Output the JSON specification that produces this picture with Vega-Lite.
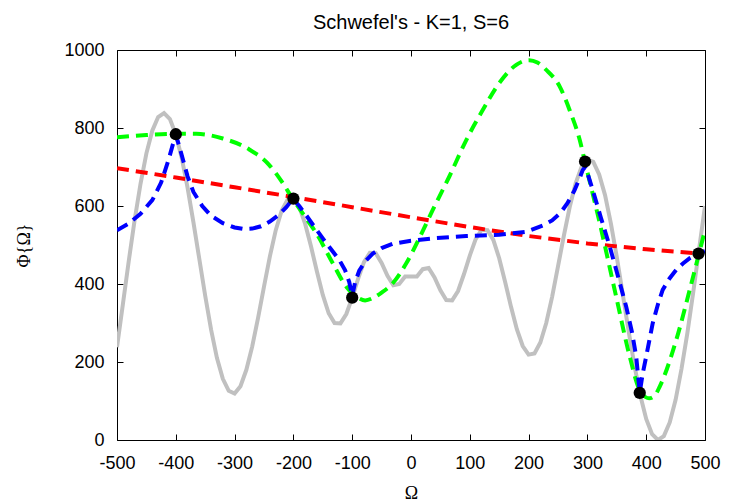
{
  "$schema": "https://vega.github.io/schema/vega-lite/v6.json",
  "width": 588,
  "height": 390,
  "autosize": {"type": "none"},
  "padding": {"left": 117, "top": 50, "right": 25, "bottom": 64},
  "background": "white",
  "title": {"text": "Schwefel's - K=1, S=6", "font": "Liberation Sans", "fontSize": 20, "fontWeight": "normal", "color": "#000", "anchor": "middle", "frame": "group", "baseline": "bottom", "offset": 18, "dy": 30},
  "config": {
    "view": {"stroke": "#000", "strokeWidth": 1},
    "axis": {"domain": false, "grid": false, "ticks": true, "tickColor": "#000", "tickWidth": 1, "tickSize": -6, "labelFont": "Liberation Sans", "labelFontSize": 18, "labelColor": "#000", "titleFont": "Liberation Serif", "titleFontSize": 18, "titleFontWeight": "normal", "titleColor": "#000"}
  },
  "datasets": {
    "gray": [
      {"x": -500, "y": 238}, {"x": -490, "y": 348}, {"x": -480, "y": 459}, {"x": -470, "y": 564}, {"x": -460, "y": 657}, {"x": -450, "y": 735}, {"x": -440, "y": 793}, {"x": -430, "y": 828}, {"x": -420, "y": 838}, {"x": -410, "y": 823}, {"x": -400, "y": 784}, {"x": -390, "y": 724}, {"x": -380, "y": 647}, {"x": -370, "y": 558}, {"x": -360, "y": 464}, {"x": -350, "y": 370}, {"x": -340, "y": 283}, {"x": -330, "y": 210}, {"x": -320, "y": 157}, {"x": -310, "y": 126}, {"x": -300, "y": 119}, {"x": -290, "y": 138}, {"x": -280, "y": 180}, {"x": -270, "y": 240}, {"x": -260, "y": 314}, {"x": -250, "y": 393}, {"x": -240, "y": 471}, {"x": -230, "y": 538}, {"x": -220, "y": 588}, {"x": -210, "y": 616}, {"x": -200, "y": 619}, {"x": -190, "y": 597}, {"x": -180, "y": 554}, {"x": -170, "y": 496}, {"x": -160, "y": 432}, {"x": -150, "y": 372}, {"x": -140, "y": 325}, {"x": -130, "y": 300}, {"x": -120, "y": 299}, {"x": -110, "y": 323}, {"x": -100, "y": 365}, {"x": -90, "y": 413}, {"x": -80, "y": 456}, {"x": -70, "y": 480}, {"x": -60, "y": 479}, {"x": -50, "y": 454}, {"x": -40, "y": 421}, {"x": -30, "y": 397}, {"x": -20, "y": 400}, {"x": -10, "y": 419}, {"x": 0, "y": 419}, {"x": 10, "y": 419}, {"x": 20, "y": 438}, {"x": 30, "y": 441}, {"x": 40, "y": 417}, {"x": 50, "y": 384}, {"x": 60, "y": 359}, {"x": 70, "y": 358}, {"x": 80, "y": 382}, {"x": 90, "y": 425}, {"x": 100, "y": 473}, {"x": 110, "y": 515}, {"x": 120, "y": 539}, {"x": 130, "y": 538}, {"x": 140, "y": 513}, {"x": 150, "y": 466}, {"x": 160, "y": 406}, {"x": 170, "y": 342}, {"x": 180, "y": 284}, {"x": 190, "y": 241}, {"x": 200, "y": 219}, {"x": 210, "y": 222}, {"x": 220, "y": 250}, {"x": 230, "y": 300}, {"x": 240, "y": 367}, {"x": 250, "y": 445}, {"x": 260, "y": 524}, {"x": 270, "y": 598}, {"x": 280, "y": 658}, {"x": 290, "y": 700}, {"x": 300, "y": 719}, {"x": 310, "y": 713}, {"x": 320, "y": 681}, {"x": 330, "y": 628}, {"x": 340, "y": 555}, {"x": 350, "y": 469}, {"x": 360, "y": 375}, {"x": 370, "y": 280}, {"x": 380, "y": 191}, {"x": 390, "y": 114}, {"x": 400, "y": 54}, {"x": 410, "y": 15}, {"x": 420, "y": 0}, {"x": 430, "y": 10}, {"x": 440, "y": 45}, {"x": 450, "y": 103}, {"x": 460, "y": 182}, {"x": 470, "y": 274}, {"x": 480, "y": 379}, {"x": 490, "y": 490}, {"x": 500, "y": 600}
    ],
    "red": [
      {"x": -500, "y": 697}, {"x": -400, "y": 673}, {"x": -300, "y": 648}, {"x": -200, "y": 623}, {"x": -100, "y": 597}, {"x": 0, "y": 571}, {"x": 100, "y": 546}, {"x": 200, "y": 523}, {"x": 300, "y": 504}, {"x": 400, "y": 489}, {"x": 489, "y": 478}
    ],
    "green": [
      {"x": -500, "y": 776}, {"x": -450, "y": 782}, {"x": -400, "y": 785}, {"x": -365, "y": 785}, {"x": -320, "y": 773}, {"x": -275, "y": 745}, {"x": -241, "y": 705}, {"x": -220, "y": 663}, {"x": -201, "y": 618}, {"x": -180, "y": 572}, {"x": -161, "y": 530}, {"x": -133, "y": 453}, {"x": -110, "y": 393}, {"x": -88, "y": 363}, {"x": -78, "y": 358}, {"x": -65, "y": 364}, {"x": -50, "y": 378}, {"x": -31, "y": 402}, {"x": -8, "y": 453}, {"x": 14, "y": 517}, {"x": 37, "y": 590}, {"x": 65, "y": 675}, {"x": 94, "y": 769}, {"x": 122, "y": 846}, {"x": 150, "y": 915}, {"x": 179, "y": 962}, {"x": 201, "y": 974}, {"x": 215, "y": 968}, {"x": 230, "y": 949}, {"x": 253, "y": 906}, {"x": 270, "y": 845}, {"x": 287, "y": 769}, {"x": 296, "y": 712}, {"x": 321, "y": 556}, {"x": 349, "y": 367}, {"x": 372, "y": 214}, {"x": 389, "y": 128}, {"x": 405, "y": 107}, {"x": 415, "y": 115}, {"x": 423, "y": 137}, {"x": 451, "y": 256}, {"x": 474, "y": 385}, {"x": 490, "y": 479}, {"x": 500, "y": 538}
    ],
    "blue": [
      {"x": -500, "y": 538}, {"x": -480, "y": 555}, {"x": -460, "y": 580}, {"x": -440, "y": 615}, {"x": -425, "y": 660}, {"x": -412, "y": 720}, {"x": -405, "y": 758}, {"x": -400, "y": 782}, {"x": -395, "y": 758}, {"x": -388, "y": 720}, {"x": -380, "y": 676}, {"x": -370, "y": 636}, {"x": -355, "y": 600}, {"x": -340, "y": 575}, {"x": -320, "y": 556}, {"x": -300, "y": 545}, {"x": -285, "y": 541}, {"x": -270, "y": 542}, {"x": -255, "y": 548}, {"x": -240, "y": 560}, {"x": -225, "y": 577}, {"x": -212, "y": 597}, {"x": -201, "y": 618}, {"x": -190, "y": 600}, {"x": -180, "y": 580}, {"x": -165, "y": 548}, {"x": -150, "y": 517}, {"x": -135, "y": 487}, {"x": -122, "y": 462}, {"x": -112, "y": 435}, {"x": -105, "y": 405}, {"x": -100, "y": 369}, {"x": -95, "y": 405}, {"x": -88, "y": 434}, {"x": -78, "y": 458}, {"x": -65, "y": 478}, {"x": -50, "y": 492}, {"x": -31, "y": 503}, {"x": 0, "y": 511}, {"x": 37, "y": 517}, {"x": 94, "y": 523}, {"x": 150, "y": 526}, {"x": 196, "y": 534}, {"x": 224, "y": 550}, {"x": 240, "y": 563}, {"x": 254, "y": 582}, {"x": 266, "y": 607}, {"x": 278, "y": 640}, {"x": 287, "y": 672}, {"x": 292, "y": 692}, {"x": 296, "y": 700}, {"x": 302, "y": 675}, {"x": 309, "y": 641}, {"x": 323, "y": 570}, {"x": 338, "y": 496}, {"x": 352, "y": 420}, {"x": 366, "y": 342}, {"x": 376, "y": 275}, {"x": 383, "y": 214}, {"x": 389, "y": 121}, {"x": 394, "y": 170}, {"x": 400, "y": 214}, {"x": 411, "y": 299}, {"x": 420, "y": 348}, {"x": 428, "y": 385}, {"x": 440, "y": 415}, {"x": 451, "y": 436}, {"x": 462, "y": 452}, {"x": 474, "y": 466}, {"x": 489, "y": 478}, {"x": 500, "y": 484}
    ],
    "pts": [
      {"x": -400, "y": 784}, {"x": -200, "y": 619}, {"x": -100, "y": 365}, {"x": 296, "y": 714}, {"x": 389, "y": 121}, {"x": 489, "y": 478}
    ]
  },
  "resolve": {"axis": {"x": "independent", "y": "independent"}},
  "layer": [
    {
      "data": {"name": "gray"},
      "mark": {"type": "line", "color": "#c0c0c0", "strokeWidth": 4, "clip": true},
      "encoding": {
        "x": {"field": "x", "type": "quantitative", "scale": {"domain": [-500, 500], "nice": false, "zero": false}, "axis": {"orient": "bottom", "values": [-500, -400, -300, -200, -100, 0, 100, 200, 300, 400, 500], "labelExpr": "toString(datum.value)", "title": "Ω", "labelPadding": 20, "titlePadding": 12, "labelFlush": false}},
        "y": {"field": "y", "type": "quantitative", "scale": {"domain": [0, 1000], "nice": false}, "axis": {"orient": "left", "values": [0, 200, 400, 600, 800, 1000], "labelExpr": "toString(datum.value)", "title": "Φ{Ω}", "labelPadding": 19, "titlePadding": 30}}
      }
    },
    {
      "data": {"name": "red"},
      "mark": {"type": "line", "color": "#ff0000", "strokeWidth": 4, "strokeDash": [12, 7], "clip": true},
      "encoding": {
        "x": {"field": "x", "type": "quantitative", "scale": {"domain": [-500, 500], "nice": false, "zero": false}, "axis": {"orient": "top", "values": [-500, -400, -300, -200, -100, 0, 100, 200, 300, 400, 500], "labels": false, "title": null}},
        "y": {"field": "y", "type": "quantitative", "scale": {"domain": [0, 1000], "nice": false}, "axis": {"orient": "right", "values": [0, 200, 400, 600, 800, 1000], "labels": false, "title": null}}
      }
    },
    {
      "data": {"name": "green"},
      "mark": {"type": "line", "color": "#00ff00", "strokeWidth": 4, "strokeDash": [12, 7], "interpolate": "monotone", "clip": true},
      "encoding": {
        "x": {"field": "x", "type": "quantitative", "axis": null},
        "y": {"field": "y", "type": "quantitative", "axis": null}
      }
    },
    {
      "data": {"name": "blue"},
      "mark": {"type": "line", "color": "#0000ff", "strokeWidth": 4, "strokeDash": [12, 7], "clip": true},
      "encoding": {
        "x": {"field": "x", "type": "quantitative", "axis": null},
        "y": {"field": "y", "type": "quantitative", "axis": null}
      }
    },
    {
      "data": {"name": "pts"},
      "mark": {"type": "circle", "color": "#000", "opacity": 1, "size": 150},
      "encoding": {
        "x": {"field": "x", "type": "quantitative", "axis": null},
        "y": {"field": "y", "type": "quantitative", "axis": null}
      }
    }
  ]
}
